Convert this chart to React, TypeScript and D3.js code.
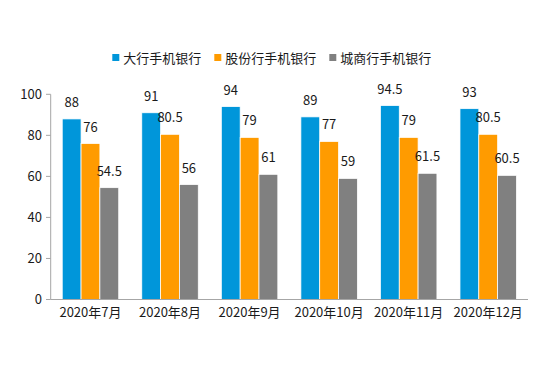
import React from 'react';
import * as d3 from 'd3';

const W = 552;
const H = 371;

const categories = ['2020年7月', '2020年8月', '2020年9月', '2020年10月', '2020年11月', '2020年12月'];
const seriesNames = ['大行手机银行', '股份行手机银行', '城商行手机银行'];
const bigBanks = [88, 91, 94, 89, 94.5, 93];
const jointStock = [76, 80.5, 79, 77, 79, 80.5];
const cityBanks = [54.5, 56, 61, 59, 61.5, 60.5];
const yTicks = [0, 20, 40, 60, 80, 100];

const colors = ['#0096DA', '#FF9B00', '#808080'];
const FONT = '"Noto Sans CJK SC", "Microsoft YaHei", sans-serif';

const App = () => {
    const series = [bigBanks, jointStock, cityBanks];
    const x = d3
        .scaleBand<string>()
        .domain(categories)
        .range([50.7, 528])
        .paddingInner(0.29)
        .paddingOuter(0.145);
    const inner = d3
        .scaleBand<number>()
        .domain(d3.range(series.length))
        .range([0, x.bandwidth()]);
    const y = d3.scaleLinear().domain([0, 100]).range([299.5, 94.3]);

    // legend layout: square + text, measured roughly by char count
    let lx = 112.3;
    const legend = seriesNames.map((name, i) => {
        const item = { name, x: lx, color: colors[i] };
        lx += 7 + 4 + name.length * 13 + 13;
        return item;
    });

    return (
        <svg
            width={W}
            height={H}
            style={{ position: 'absolute', left: 0, top: 0, background: '#fff' }}
            fontFamily={FONT}
        >
            {/* legend */}
            {legend.map(d => (
                <g key={d.name}>
                    <rect x={d.x} y={54} width={7} height={7} fill={d.color} />
                    <text x={d.x + 11} y={62.5} fontSize={13} fill='#1a1a1a'>
                        {d.name}
                    </text>
                </g>
            ))}

            {/* y axis */}
            <line x1={50.7} x2={50.7} y1={y(100)} y2={y(0)} stroke='#a6a6a6' />
            {yTicks.map(t => (
                <g key={t}>
                    <line x1={46} x2={50.7} y1={y(t)} y2={y(t)} stroke='#a6a6a6' />
                    <text
                        x={42}
                        y={y(t) + 4.5}
                        textAnchor='end'
                        fontSize={13}
                        fill='#1a1a1a'
                    >
                        {t}
                    </text>
                </g>
            ))}

            {/* bars */}
            {categories.map((c, ci) => (
                <g key={c} transform={`translate(${x(c)},0)`}>
                    {series.map((s, si) => {
                        const v = s[ci];
                        const bx = inner(si) ?? 0;
                        return (
                            <g key={si}>
                                <rect
                                    x={bx}
                                    y={y(v)}
                                    width={inner.bandwidth()}
                                    height={y(0) - y(v)}
                                    fill={colors[si]}
                                    stroke='#fff'
                                    strokeWidth={0.75}
                                />
                                <text
                                    x={bx + inner.bandwidth() / 2}
                                    y={y(v) - 12}
                                    textAnchor='middle'
                                    fontSize={13}
                                    fill='#1a1a1a'
                                >
                                    {v}
                                </text>
                            </g>
                        );
                    })}
                </g>
            ))}

            {/* x axis */}
            <line x1={50.7} x2={528} y1={y(0)} y2={y(0)} stroke='#a6a6a6' />
            {categories.map(c => (
                <text
                    key={c}
                    x={(x(c) ?? 0) + x.bandwidth() / 2}
                    y={317}
                    textAnchor='middle'
                    fontSize={13}
                    fill='#1a1a1a'
                >
                    {c}
                </text>
            ))}
        </svg>
    );
};

export default App;
